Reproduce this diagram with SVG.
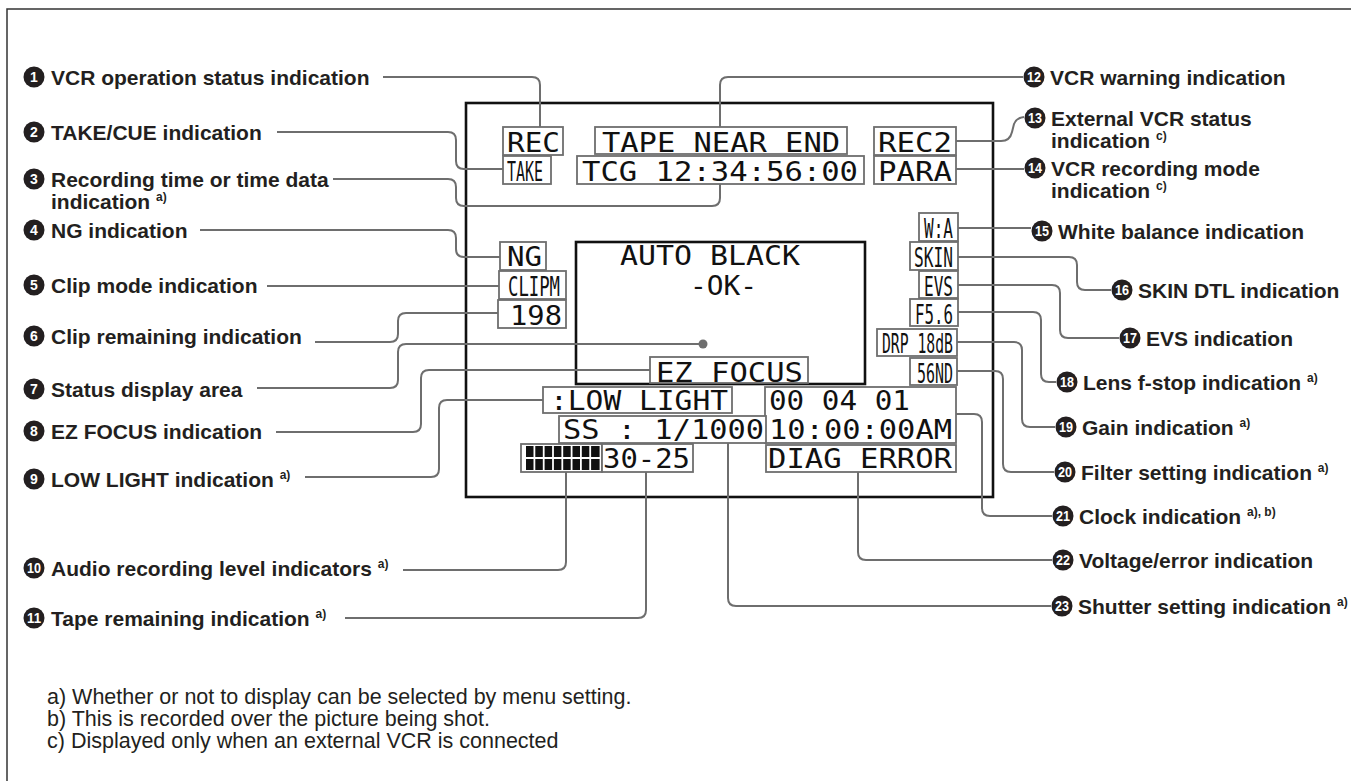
<svg xmlns="http://www.w3.org/2000/svg" width="1351" height="781" viewBox="0 0 1351 781">
<style>
.lbl{font-family:"Liberation Sans",Arial,sans-serif;font-weight:bold;font-size:21px;fill:#231f20}
.sup{font-size:12px}
.nc{fill:#231f20}
.nt{font-family:"Liberation Sans",Arial,sans-serif;font-weight:bold;font-size:14px;fill:#fff;text-anchor:middle}
.box{fill:#fff;stroke:#6e6e6e;stroke-width:1.8}
.lcd{font-family:"DejaVu Sans Mono",monospace;font-size:27px;fill:#111}
.conn{fill:none;stroke:#6e6e6e;stroke-width:2}
.scr{fill:none;stroke:#111;stroke-width:2.6}
.foot{font-family:"Liberation Sans",Arial,sans-serif;font-size:21.5px;fill:#231f20}
.bar{fill:#111}
</style>
<rect width="1351" height="781" fill="#fff"/>
<path d="M7 781 V9 H1351" fill="none" stroke="#333" stroke-width="1.5"/>

<g id="screen">
<rect class="scr" x="466" y="103" width="527" height="394"/>
</g>
<g id="status-area">
<rect class="scr" x="576" y="242" width="289" height="142"/>
<text class="lcd" x="620" y="265" font-size="23" textLength="180" lengthAdjust="spacingAndGlyphs">AUTO BLACK</text>
<text class="lcd" x="690" y="295" font-size="23" textLength="67" lengthAdjust="spacingAndGlyphs">-OK-</text>
</g>

<g id="connectors">
<path class="conn" d="M383 77 H532 Q540 77 540 85 V127"/>
<path class="conn" d="M277 132 H448 Q456 132 456 140 V161 Q456 169 464 169 H503"/>
<path class="conn" d="M333 179 H448 Q456 179 456 187 V198 Q456 206 464 206 H712 Q720 206 720 198 V184"/>
<path class="conn" d="M200 230 H448 Q456 230 456 238 V249 Q456 257 464 257 H500"/>
<path class="conn" d="M267 286 H499"/>
<path class="conn" d="M315 342 H390 Q398 342 398 334 V321 Q398 313 406 313 H498"/>
<path class="conn" d="M257 388 H390 Q398 388 398 380 V352 Q398 344 406 344 H700"/>
<circle cx="703" cy="344" r="4.5" fill="#6e6e6e"/>
<path class="conn" d="M276 432 H413 Q421 432 421 424 V378 Q421 370 429 370 H650"/>
<path class="conn" d="M305 477 H431 Q439 477 439 469 V408 Q439 400 447 400 H543"/>
<path class="conn" d="M403 570 H558 Q566 570 566 562 V472"/>
<path class="conn" d="M345 618 H638 Q646 618 646 610 V472"/>
<path class="conn" d="M720 127 V85 Q720 77 728 77 H1023"/>
<path class="conn" d="M956 141 H1001 Q1010 141 1012 132 L1014 124 Q1016 118 1024 117"/>
<path class="conn" d="M956 169 H1024"/>
<path class="conn" d="M958 228 H1031"/>
<path class="conn" d="M958 257 H1069 Q1077 257 1077 265 V282 Q1077 290 1085 290 H1111"/>
<path class="conn" d="M958 285 H1052 Q1060 285 1060 293 V330 Q1060 338 1068 338 H1119"/>
<path class="conn" d="M958 312 H1033 Q1041 312 1041 320 V374 Q1041 382 1049 382 H1056"/>
<path class="conn" d="M957 342 H1014 Q1022 342 1022 350 V419 Q1022 427 1030 427 H1055"/>
<path class="conn" d="M957 371 H995 Q1003 371 1003 379 V464 Q1003 472 1011 472 H1054"/>
<path class="conn" d="M956 414 H974 Q982 414 982 422 V508 Q982 516 990 516 H1052"/>
<path class="conn" d="M858 472 V552 Q858 560 866 560 H1052"/>
<path class="conn" d="M728 443 V598 Q728 606 736 606 H1051"/>
</g>

<g id="ind-rec"><rect class="box" x="503" y="127" width="60" height="28"/><text class="lcd" x="507" y="152" textLength="53" lengthAdjust="spacingAndGlyphs">REC</text></g>
<g id="ind-take"><rect class="box" x="503" y="156" width="48" height="28"/><text class="lcd" x="507" y="181" textLength="36" lengthAdjust="spacingAndGlyphs">TAKE</text></g>
<g id="ind-warning"><rect class="box" x="595" y="127" width="252" height="27"/><text class="lcd" x="602" y="152" textLength="238" lengthAdjust="spacingAndGlyphs">TAPE NEAR END</text></g>
<g id="ind-time"><rect class="box" x="577" y="156" width="287" height="28"/><text class="lcd" x="582" y="181" textLength="276" lengthAdjust="spacingAndGlyphs">TCG 12:34:56:00</text></g>
<g id="ind-rec2"><rect class="box" x="874" y="127" width="82" height="28"/><text class="lcd" x="878" y="152" textLength="74" lengthAdjust="spacingAndGlyphs">REC2</text></g>
<g id="ind-para"><rect class="box" x="874" y="156" width="82" height="28"/><text class="lcd" x="878" y="181" textLength="74" lengthAdjust="spacingAndGlyphs">PARA</text></g>
<g id="ind-wa"><rect class="box" x="919" y="213" width="39" height="28"/><text class="lcd" x="924" y="238" font-size="26" textLength="29" lengthAdjust="spacingAndGlyphs">W:A</text></g>
<g id="ind-skin"><rect class="box" x="910" y="242" width="48" height="28"/><text class="lcd" x="914" y="267" font-size="26" textLength="39" lengthAdjust="spacingAndGlyphs">SKIN</text></g>
<g id="ind-evs"><rect class="box" x="919" y="271" width="39" height="27"/><text class="lcd" x="924" y="296" font-size="26" textLength="29" lengthAdjust="spacingAndGlyphs">EVS</text></g>
<g id="ind-fstop"><rect class="box" x="910" y="299" width="48" height="27"/><text class="lcd" x="915" y="324" font-size="26" textLength="38" lengthAdjust="spacingAndGlyphs">F5.6</text></g>
<g id="ind-gain"><rect class="box" x="877" y="329" width="80" height="27"/><text class="lcd" x="882" y="353" font-size="26" textLength="71" lengthAdjust="spacingAndGlyphs">DRP 18dB</text></g>
<g id="ind-filter"><rect class="box" x="910" y="358" width="47" height="27"/><text class="lcd" x="917" y="383" font-size="26" textLength="36" lengthAdjust="spacingAndGlyphs">56ND</text></g>
<g id="ind-ng"><rect class="box" x="500" y="242" width="46" height="28"/><text class="lcd" x="507" y="266" font-size="25" textLength="35" lengthAdjust="spacingAndGlyphs">NG</text></g>
<g id="ind-clipm"><rect class="box" x="499" y="271" width="67" height="28"/><text class="lcd" x="508" y="296" font-size="25" textLength="52" lengthAdjust="spacingAndGlyphs">CLIPM</text></g>
<g id="ind-198"><rect class="box" x="498" y="300" width="68" height="28"/><text class="lcd" x="510" y="325" font-size="24" textLength="52" lengthAdjust="spacingAndGlyphs">198</text></g>
<g id="ind-ezfocus"><rect class="box" x="650" y="357" width="158" height="26"/><text class="lcd" x="656" y="382" textLength="147" lengthAdjust="spacingAndGlyphs">EZ FOCUS</text></g>
<g id="ind-lowlight"><rect class="box" x="543" y="387" width="189" height="26"/><text class="lcd" x="550" y="410" textLength="178" lengthAdjust="spacingAndGlyphs">:LOW LIGHT</text></g>
<g id="ind-clock"><rect class="box" x="765" y="387" width="191" height="56"/><text class="lcd" x="769" y="410" textLength="141" lengthAdjust="spacingAndGlyphs">00 04 01</text><text class="lcd" x="769" y="439" textLength="183" lengthAdjust="spacingAndGlyphs">10:00:00AM</text></g>
<g id="ind-shutter"><rect class="box" x="559" y="416" width="207" height="27"/><text class="lcd" x="563" y="439" textLength="201" lengthAdjust="spacingAndGlyphs">SS : 1/1000</text></g>
<g id="ind-diag"><rect class="box" x="766" y="445" width="190" height="27"/><text class="lcd" x="768" y="468" textLength="184" lengthAdjust="spacingAndGlyphs">DIAG ERROR</text></g>
<g id="ind-audio"><rect class="box" x="521" y="444" width="81" height="28"/>
<g class="bar">
<rect x="526" y="446" width="7.5" height="11"/><rect x="535.3" y="446" width="7.5" height="11"/><rect x="544.6" y="446" width="7.5" height="11"/><rect x="553.9" y="446" width="7.5" height="11"/><rect x="563.2" y="446" width="7.5" height="11"/><rect x="572.5" y="446" width="7.5" height="11"/><rect x="581.8" y="446" width="7.5" height="11"/><rect x="591.1" y="446" width="8.5" height="11"/>
<rect x="526" y="459" width="7.5" height="11"/><rect x="535.3" y="459" width="7.5" height="11"/><rect x="544.6" y="459" width="7.5" height="11"/><rect x="553.9" y="459" width="7.5" height="11"/><rect x="563.2" y="459" width="7.5" height="11"/><rect x="572.5" y="459" width="7.5" height="11"/><rect x="581.8" y="459" width="7.5" height="11"/><rect x="591.1" y="459" width="8.5" height="11"/>
</g></g>
<g id="ind-tape"><rect class="box" x="602" y="444" width="91" height="28"/><text class="lcd" x="603" y="468" textLength="87" lengthAdjust="spacingAndGlyphs">30-25</text></g>

<g id="label-1"><circle class="nc" cx="34" cy="77" r="10.5"/><text class="nt" x="34" y="82">1</text><text class="lbl" x="51" y="84.5">VCR operation status indication</text></g>
<g id="label-2"><circle class="nc" cx="34" cy="132" r="10.5"/><text class="nt" x="34" y="137">2</text><text class="lbl" x="51" y="139.5">TAKE/CUE indication</text></g>
<g id="label-3"><circle class="nc" cx="34" cy="179" r="10.5"/><text class="nt" x="34" y="184">3</text><text class="lbl" x="51" y="186.5">Recording time or time data</text><text class="lbl" x="51" y="209">indication <tspan class="sup" dy="-8">a)</tspan></text></g>
<g id="label-4"><circle class="nc" cx="34" cy="230" r="10.5"/><text class="nt" x="34" y="235">4</text><text class="lbl" x="51" y="237.5">NG indication</text></g>
<g id="label-5"><circle class="nc" cx="34" cy="285" r="10.5"/><text class="nt" x="34" y="290">5</text><text class="lbl" x="51" y="292.5">Clip mode indication</text></g>
<g id="label-6"><circle class="nc" cx="34" cy="336" r="10.5"/><text class="nt" x="34" y="341">6</text><text class="lbl" x="51" y="343.5">Clip remaining indication</text></g>
<g id="label-7"><circle class="nc" cx="34" cy="389" r="10.5"/><text class="nt" x="34" y="394">7</text><text class="lbl" x="51" y="396.5">Status display area</text></g>
<g id="label-8"><circle class="nc" cx="34" cy="431" r="10.5"/><text class="nt" x="34" y="436">8</text><text class="lbl" x="51" y="438.5">EZ FOCUS indication</text></g>
<g id="label-9"><circle class="nc" cx="34" cy="479" r="10.5"/><text class="nt" x="34" y="484">9</text><text class="lbl" x="51" y="486.5">LOW LIGHT indication <tspan class="sup" dy="-8">a)</tspan></text></g>
<g id="label-10"><circle class="nc" cx="34" cy="568" r="10.5"/><text class="nt" x="34" y="573" font-size="12" textLength="14" lengthAdjust="spacingAndGlyphs">10</text><text class="lbl" x="51" y="575.5">Audio recording level indicators <tspan class="sup" dy="-8">a)</tspan></text></g>
<g id="label-11"><circle class="nc" cx="34" cy="618" r="10.5"/><text class="nt" x="34" y="623" font-size="12" textLength="14" lengthAdjust="spacingAndGlyphs">11</text><text class="lbl" x="51" y="625.5">Tape remaining indication <tspan class="sup" dy="-8">a)</tspan></text></g>

<g id="label-12"><circle class="nc" cx="1034" cy="77" r="10.5"/><text class="nt" x="1034" y="82" font-size="12" textLength="14" lengthAdjust="spacingAndGlyphs">12</text><text class="lbl" x="1050" y="84.5">VCR warning indication</text></g>
<g id="label-13"><circle class="nc" cx="1035" cy="118" r="10.5"/><text class="nt" x="1035" y="123" font-size="12" textLength="14" lengthAdjust="spacingAndGlyphs">13</text><text class="lbl" x="1051" y="125.5">External VCR status</text><text class="lbl" x="1051" y="148">indication <tspan class="sup" dy="-8">c)</tspan></text></g>
<g id="label-14"><circle class="nc" cx="1035" cy="168" r="10.5"/><text class="nt" x="1035" y="173" font-size="12" textLength="14" lengthAdjust="spacingAndGlyphs">14</text><text class="lbl" x="1051" y="175.5">VCR recording mode</text><text class="lbl" x="1051" y="198">indication <tspan class="sup" dy="-8">c)</tspan></text></g>
<g id="label-15"><circle class="nc" cx="1042" cy="231" r="10.5"/><text class="nt" x="1042" y="236" font-size="12" textLength="14" lengthAdjust="spacingAndGlyphs">15</text><text class="lbl" x="1058" y="238.5">White balance indication</text></g>
<g id="label-16"><circle class="nc" cx="1122" cy="290" r="10.5"/><text class="nt" x="1122" y="295" font-size="12" textLength="14" lengthAdjust="spacingAndGlyphs">16</text><text class="lbl" x="1138" y="297.5">SKIN DTL indication</text></g>
<g id="label-17"><circle class="nc" cx="1130" cy="338" r="10.5"/><text class="nt" x="1130" y="343" font-size="12" textLength="14" lengthAdjust="spacingAndGlyphs">17</text><text class="lbl" x="1146" y="345.5">EVS indication</text></g>
<g id="label-18"><circle class="nc" cx="1067" cy="382" r="10.5"/><text class="nt" x="1067" y="387" font-size="12" textLength="14" lengthAdjust="spacingAndGlyphs">18</text><text class="lbl" x="1083" y="389.5">Lens f-stop indication <tspan class="sup" dy="-8">a)</tspan></text></g>
<g id="label-19"><circle class="nc" cx="1066" cy="427" r="10.5"/><text class="nt" x="1066" y="432" font-size="12" textLength="14" lengthAdjust="spacingAndGlyphs">19</text><text class="lbl" x="1082" y="434.5">Gain indication <tspan class="sup" dy="-8">a)</tspan></text></g>
<g id="label-20"><circle class="nc" cx="1065" cy="472" r="10.5"/><text class="nt" x="1065" y="477" font-size="12" textLength="14" lengthAdjust="spacingAndGlyphs">20</text><text class="lbl" x="1081" y="479.5">Filter setting indication <tspan class="sup" dy="-8">a)</tspan></text></g>
<g id="label-21"><circle class="nc" cx="1063" cy="516" r="10.5"/><text class="nt" x="1063" y="521" font-size="12" textLength="14" lengthAdjust="spacingAndGlyphs">21</text><text class="lbl" x="1079" y="523.5">Clock indication <tspan class="sup" dy="-8">a), b)</tspan></text></g>
<g id="label-22"><circle class="nc" cx="1063" cy="560" r="10.5"/><text class="nt" x="1063" y="565" font-size="12" textLength="14" lengthAdjust="spacingAndGlyphs">22</text><text class="lbl" x="1079" y="567.5">Voltage/error indication</text></g>
<g id="label-23"><circle class="nc" cx="1062" cy="606" r="10.5"/><text class="nt" x="1062" y="611" font-size="12" textLength="14" lengthAdjust="spacingAndGlyphs">23</text><text class="lbl" x="1078" y="613.5">Shutter setting indication <tspan class="sup" dy="-8">a)</tspan></text></g>

<g id="footnotes">
<text class="foot" x="47" y="704">a) Whether or not to display can be selected by menu setting.</text>
<text class="foot" x="47" y="726">b) This is recorded over the picture being shot.</text>
<text class="foot" x="47" y="748">c) Displayed only when an external VCR is connected</text>
</g>
</svg>
